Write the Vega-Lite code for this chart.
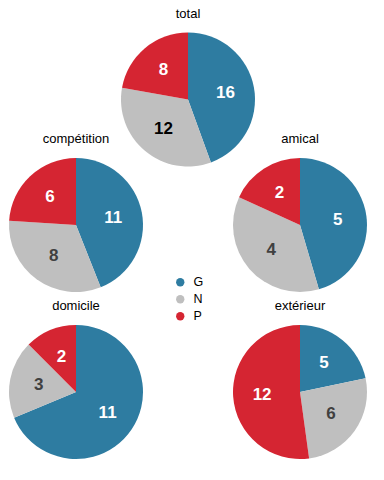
{
  "$schema": "https://vega.github.io/schema/vega-lite/v6.json",
  "padding": {"left": 9, "top": 7, "right": 5, "bottom": 5},
  "background": "white",
  "config": {
    "view": {"stroke": null},
    "font": "Liberation Sans",
    "title": {"fontSize": 13, "fontWeight": "normal", "color": "#000000", "offset": 12}
  },
  "datasets": {
    "scores": [
      {"groupe": "total", "resultat": "G", "n": 16},
      {"groupe": "total", "resultat": "N", "n": 12},
      {"groupe": "total", "resultat": "P", "n": 8},
      {"groupe": "compétition", "resultat": "G", "n": 11},
      {"groupe": "compétition", "resultat": "N", "n": 8},
      {"groupe": "compétition", "resultat": "P", "n": 6},
      {"groupe": "amical", "resultat": "G", "n": 5},
      {"groupe": "amical", "resultat": "N", "n": 4},
      {"groupe": "amical", "resultat": "P", "n": 2},
      {"groupe": "domicile", "resultat": "G", "n": 11},
      {"groupe": "domicile", "resultat": "N", "n": 3},
      {"groupe": "domicile", "resultat": "P", "n": 2},
      {"groupe": "extérieur", "resultat": "G", "n": 5},
      {"groupe": "extérieur", "resultat": "N", "n": 6},
      {"groupe": "extérieur", "resultat": "P", "n": 12}
    ]
  },
  "bounds": "flush",
  "columns": 3,
  "spacing": {"row": 33, "column": 0},
  "concat": [
    {"width": 134, "height": 51, "data": {"values": []}, "mark": "point"},
    {
      "title": "total",
      "width": 90, "height": 51,
      "data": {"name": "scores"},
      "transform": [{"filter": "datum.groupe === 'total'"}],
      "encoding": {
        "theta": {"field": "n", "type": "quantitative", "stack": true},
        "order": {"field": "resultat", "type": "nominal", "sort": "ascending"}
      },
      "layer": [
        {
          "mark": {"type": "arc", "outerRadius": 67},
          "encoding": {
            "color": {
              "field": "resultat", "type": "nominal",
              "scale": {"domain": ["G", "N", "P"], "range": ["#2E7CA1", "#BFBFBF", "#D52532"]},
              "legend": {"orient": "none", "legendX": 165, "legendY": 202, "title": null, "symbolType": "circle", "symbolSize": 70, "symbolStrokeWidth": 0, "symbolOpacity": 1, "labelFontSize": 12.5, "labelOffset": 7, "rowPadding": 4, "labelColor": "#000000"}
            }
          }
        },
        {
          "mark": {"type": "text", "radius": 38, "fontSize": 17, "fontWeight": "bold"},
          "encoding": {
            "text": {"field": "n", "type": "quantitative"},
            "detail": {"field": "resultat", "type": "nominal"},
            "color": {"condition": {"test": "datum.resultat === 'N'", "value": "#000000"}, "value": "#ffffff"}
          }
        }
      ]
    },
    {"width": 134, "height": 51, "data": {"values": []}, "mark": "point"},
    {
      "title": "compétition",
      "width": 134, "height": 134,
      "data": {"name": "scores"},
      "transform": [{"filter": "datum.groupe === 'compétition'"}],
      "encoding": {
        "theta": {"field": "n", "type": "quantitative", "stack": true},
        "order": {"field": "resultat", "type": "nominal", "sort": "ascending"}
      },
      "layer": [
        {"mark": {"type": "arc", "outerRadius": 67}, "encoding": {"color": {"field": "resultat", "type": "nominal"}}},
        {
          "mark": {"type": "text", "radius": 38, "fontSize": 17, "fontWeight": "bold"},
          "encoding": {
            "text": {"field": "n", "type": "quantitative"},
            "detail": {"field": "resultat", "type": "nominal"},
            "color": {"condition": {"test": "datum.resultat === 'N'", "value": "#404040"}, "value": "#ffffff"}
          }
        }
      ]
    },
    {"width": 90, "height": 134, "data": {"values": []}, "mark": "point"},
    {
      "title": "amical",
      "width": 134, "height": 134,
      "data": {"name": "scores"},
      "transform": [{"filter": "datum.groupe === 'amical'"}],
      "encoding": {
        "theta": {"field": "n", "type": "quantitative", "stack": true},
        "order": {"field": "resultat", "type": "nominal", "sort": "ascending"}
      },
      "layer": [
        {"mark": {"type": "arc", "outerRadius": 67}, "encoding": {"color": {"field": "resultat", "type": "nominal"}}},
        {
          "mark": {"type": "text", "radius": 38, "fontSize": 17, "fontWeight": "bold"},
          "encoding": {
            "text": {"field": "n", "type": "quantitative"},
            "detail": {"field": "resultat", "type": "nominal"},
            "color": {"condition": {"test": "datum.resultat === 'N'", "value": "#404040"}, "value": "#ffffff"}
          }
        }
      ]
    },
    {
      "title": "domicile",
      "width": 134, "height": 134,
      "data": {"name": "scores"},
      "transform": [{"filter": "datum.groupe === 'domicile'"}],
      "encoding": {
        "theta": {"field": "n", "type": "quantitative", "stack": true},
        "order": {"field": "resultat", "type": "nominal", "sort": "ascending"}
      },
      "layer": [
        {"mark": {"type": "arc", "outerRadius": 67}, "encoding": {"color": {"field": "resultat", "type": "nominal"}}},
        {
          "mark": {"type": "text", "radius": 38, "fontSize": 17, "fontWeight": "bold"},
          "encoding": {
            "text": {"field": "n", "type": "quantitative"},
            "detail": {"field": "resultat", "type": "nominal"},
            "color": {"condition": {"test": "datum.resultat === 'N'", "value": "#404040"}, "value": "#ffffff"}
          }
        }
      ]
    },
    {"width": 90, "height": 134, "data": {"values": []}, "mark": "point"},
    {
      "title": "extérieur",
      "width": 134, "height": 134,
      "data": {"name": "scores"},
      "transform": [{"filter": "datum.groupe === 'extérieur'"}],
      "encoding": {
        "theta": {"field": "n", "type": "quantitative", "stack": true},
        "order": {"field": "resultat", "type": "nominal", "sort": "ascending"}
      },
      "layer": [
        {"mark": {"type": "arc", "outerRadius": 67}, "encoding": {"color": {"field": "resultat", "type": "nominal"}}},
        {
          "mark": {"type": "text", "radius": 38, "fontSize": 17, "fontWeight": "bold"},
          "encoding": {
            "text": {"field": "n", "type": "quantitative"},
            "detail": {"field": "resultat", "type": "nominal"},
            "color": {"condition": {"test": "datum.resultat === 'N'", "value": "#404040"}, "value": "#ffffff"}
          }
        }
      ]
    }
  ]
}
